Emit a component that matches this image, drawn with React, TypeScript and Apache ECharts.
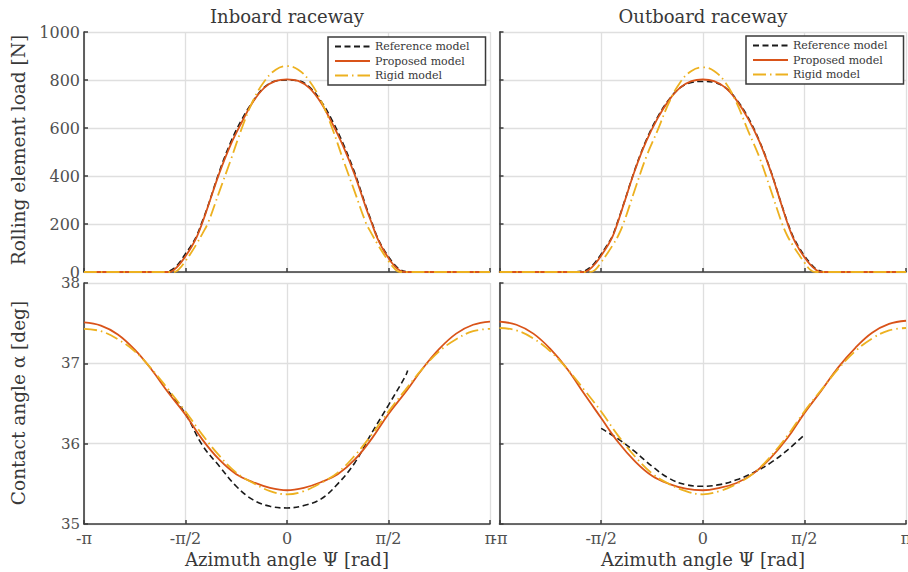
import React, { useEffect, useRef } from 'react';
import * as echarts from 'echarts';

// ---------- data ----------
const seriesNames = ['Reference model', 'Proposed model', 'Rigid model'];
const piTickLabels = ['-π', '-π/2', '0', 'π/2', 'π'];
const panelTitles = ['Inboard raceway', 'Outboard raceway'];

// azimuth samples (degrees) for the load curves
const psiLoadDeg = [-180, -115, -110, -105, -100, -95, -90, -85, -80, -75, -70, -60, -50, -40, -30, -20, -10, 0, 10, 20, 30, 40, 50, 60, 70, 75, 80, 85, 90, 95, 100, 105, 110, 115, 180];

const inboardLoadRef = [0, 0, 0, 3, 16, 42, 76, 110, 152, 212, 276, 418, 540, 636, 712, 770, 796, 800, 797, 770, 713, 632, 532, 414, 274, 210, 146, 100, 64, 32, 11, 2, 0, 0, 0];
const inboardLoadProp = [0, 0, 0, 0, 10, 34, 66, 102, 146, 206, 274, 412, 530, 625, 710, 768, 796, 803, 796, 766, 706, 620, 522, 405, 268, 205, 142, 96, 58, 27, 6, 0, 0, 0, 0];
const inboardLoadRigid = [0, 0, 0, 0, 0, 16, 46, 80, 118, 160, 205, 335, 465, 600, 715, 795, 843, 858, 843, 795, 715, 600, 465, 335, 205, 160, 118, 80, 46, 16, 0, 0, 0, 0, 0];

const outboardLoadRef = [0, 0, 2, 4, 18, 42, 74, 110, 150, 214, 284, 428, 550, 645, 718, 768, 790, 794, 790, 768, 718, 645, 548, 424, 278, 208, 148, 104, 68, 38, 14, 3, 0, 0, 0];
const outboardLoadProp = [0, 0, 0, 0, 12, 36, 68, 104, 146, 210, 282, 425, 545, 640, 715, 768, 795, 802, 795, 768, 715, 640, 545, 422, 276, 204, 142, 98, 62, 32, 10, 0, 0, 0, 0];
const outboardLoadRigid = [0, 0, 0, 0, 0, 10, 40, 74, 110, 150, 205, 345, 480, 590, 705, 790, 838, 853, 838, 790, 705, 590, 480, 345, 205, 150, 110, 74, 40, 10, 0, 0, 0, 0, 0];

// azimuth samples (degrees) for the contact-angle curves
const psiAngleDeg = [-180, -165, -150, -135, -120, -105, -90, -75, -60, -45, -30, -15, 0, 15, 30, 45, 60, 75, 90, 105, 120, 135, 150, 165, 180];

const inboardAngleProp = [37.51, 37.47, 37.36, 37.17, 36.92, 36.63, 36.36, 36.05, 35.80, 35.62, 35.52, 35.45, 35.42, 35.45, 35.52, 35.62, 35.80, 36.06, 36.37, 36.64, 36.93, 37.18, 37.37, 37.48, 37.52];
const inboardAngleRigid = [37.43, 37.40, 37.30, 37.15, 36.93, 36.67, 36.40, 36.11, 35.85, 35.64, 35.51, 35.41, 35.37, 35.41, 35.51, 35.64, 35.85, 36.11, 36.40, 36.67, 36.93, 37.15, 37.30, 37.40, 37.43];
const inboardRefDeg = [-105, -90, -75, -60, -45, -30, -15, 0, 15, 30, 45, 60, 75, 90, 105, 107];
const inboardAngleRef = [36.65, 36.37, 35.98, 35.72, 35.47, 35.30, 35.22, 35.20, 35.23, 35.31, 35.50, 35.76, 36.13, 36.48, 36.84, 36.91];

const outboardAngleProp = [37.52, 37.48, 37.37, 37.18, 36.93, 36.62, 36.32, 36.02, 35.78, 35.60, 35.50, 35.44, 35.42, 35.45, 35.51, 35.63, 35.82, 36.07, 36.38, 36.66, 36.95, 37.19, 37.38, 37.49, 37.53];
const outboardAngleRigid = [37.44, 37.41, 37.31, 37.15, 36.93, 36.67, 36.40, 36.10, 35.84, 35.63, 35.50, 35.41, 35.37, 35.41, 35.50, 35.63, 35.84, 36.10, 36.40, 36.67, 36.93, 37.15, 37.31, 37.41, 37.44];
const outboardRefDeg = [-90, -75, -60, -45, -30, -15, 0, 15, 30, 45, 60, 75, 90];
const outboardAngleRef = [36.19, 36.06, 35.90, 35.72, 35.57, 35.49, 35.47, 35.49, 35.55, 35.64, 35.76, 35.92, 36.11];

// ---------- styling ----------
const FONT = '"DejaVu Serif", serif';
const AXIS_COLOR = '#3d3d3d';
const GRID_COLOR = '#dfdfdf';
const TEXT_COLOR = '#383838';
const TICK_TEXT = '#505050';
const COLORS = ['#1a1a1a', '#D95319', '#EDB120'];
const LINE_TYPES: any[] = [[6, 3.5], 'solid', [13, 4, 1.5, 4]];
const LINE_WIDTHS = [1.6, 1.8, 1.8];

const toPairs = (deg: number[], vals: number[]) => deg.map((d, i) => [(d * Math.PI) / 180, vals[i]]);

export default function App() {
  const ref = useRef<HTMLDivElement>(null);

  useEffect(() => {
    if (!ref.current) return;
    const chart = echarts.init(ref.current, undefined, { renderer: 'svg' });

    const grids = [
      { left: 84, top: 32, width: 406, height: 240 },
      { left: 499.5, top: 32, width: 406.5, height: 240 },
      { left: 84, top: 283, width: 406, height: 241 },
      { left: 499.5, top: 283, width: 406.5, height: 241 },
    ].map((g) => ({ ...g, outerBoundsMode: 'none', containLabel: false }));

    const xAxes = [0, 1, 2, 3].map((i) => ({
      gridIndex: i,
      type: 'value',
      min: -Math.PI,
      max: Math.PI,
      interval: Math.PI / 2,
      axisLine: { show: true, onZero: false, lineStyle: { color: AXIS_COLOR, width: 1.6 } },
      axisTick: { show: true, inside: true, length: 4, lineStyle: { color: AXIS_COLOR, width: 1.5 } },
      axisLabel: {
        show: i >= 2,
        fontFamily: FONT,
        fontSize: 16,
        color: TICK_TEXT,
        margin: 6,
        showMinLabel: true,
        showMaxLabel: true,
        formatter: (v: number) => piTickLabels[Math.round(v / (Math.PI / 2)) + 2] ?? '',
      },
      splitLine: { show: true, lineStyle: { color: GRID_COLOR, width: 1.3 } },
    }));

    const yAxes = [0, 1, 2, 3].map((i) => ({
      gridIndex: i,
      type: 'value',
      min: i < 2 ? 0 : 35,
      max: i < 2 ? 1000 : 38,
      interval: i < 2 ? 200 : 1,
      axisLine: { show: true, onZero: false, lineStyle: { color: AXIS_COLOR, width: 1.6 } },
      axisTick: { show: true, inside: true, length: 4, lineStyle: { color: AXIS_COLOR, width: 1.5 } },
      axisLabel: {
        show: i === 0 || i === 2,
        fontFamily: FONT,
        fontSize: i < 2 ? 16 : 15,
        color: TICK_TEXT,
        margin: 4,
        showMinLabel: true,
        showMaxLabel: true,
        formatter: (v: number) => String(Math.round(v)),
      },
      splitLine: { show: true, lineStyle: { color: GRID_COLOR, width: 1.3 } },
    }));

    const panels: [number[], number[], number[], number[], number[], number[]][] = [
      [psiLoadDeg, inboardLoadRef, psiLoadDeg, inboardLoadProp, psiLoadDeg, inboardLoadRigid],
      [psiLoadDeg, outboardLoadRef, psiLoadDeg, outboardLoadProp, psiLoadDeg, outboardLoadRigid],
      [inboardRefDeg, inboardAngleRef, psiAngleDeg, inboardAngleProp, psiAngleDeg, inboardAngleRigid],
      [outboardRefDeg, outboardAngleRef, psiAngleDeg, outboardAngleProp, psiAngleDeg, outboardAngleRigid],
    ];

    const series: any[] = [];
    panels.forEach((p, gi) => {
      for (let k = 0; k < 3; k++) {
        series.push({
          type: 'line',
          name: seriesNames[k],
          xAxisIndex: gi,
          yAxisIndex: gi,
          data: toPairs(p[2 * k], p[2 * k + 1]),
          symbol: 'none',
          showSymbol: false,
          smooth: 0.4,
          silent: true,
          z: 2 + k,
          itemStyle: { color: COLORS[k] },
          lineStyle: { color: COLORS[k], width: LINE_WIDTHS[k], type: LINE_TYPES[k] },
        });
      }
    });

    const legendBase = {
      orient: 'vertical',
      itemWidth: 35,
      itemHeight: 12,
      itemGap: 3.5,
      padding: [4, 16, 4, 6],
      borderColor: '#3a3a3a',
      borderWidth: 1.5,
      backgroundColor: '#ffffff',
      selectedMode: false,
      itemStyle: { opacity: 0 },
      textStyle: { fontFamily: FONT, fontSize: 11, color: TEXT_COLOR },
      data: seriesNames,
      z: 10,
    };

    const txt = (text: string, x: number, y: number, size: number, rotation = 0) => ({
      type: 'text',
      x,
      y,
      rotation,
      silent: true,
      style: {
        text,
        fontFamily: FONT,
        fontSize: size,
        fill: TEXT_COLOR,
        align: 'center',
        verticalAlign: 'middle',
        textAlign: 'center',
        textVerticalAlign: 'middle',
      },
    });

    chart.setOption({
      animation: false,
      backgroundColor: '#ffffff',
      grid: grids,
      xAxis: xAxes,
      yAxis: yAxes,
      legend: [
        { ...legendBase, left: 328, top: 37 },
        { ...legendBase, left: 746, top: 36 },
      ],
      series,
      graphic: [
        txt(panelTitles[0], 287, 16, 18),
        txt(panelTitles[1], 703, 16, 18),
        txt('Rolling element load [N]', 18, 150, 18.5, Math.PI / 2),
        txt('Contact angle α [deg]', 18, 403, 18.5, Math.PI / 2),
        txt('Azimuth angle Ψ [rad]', 287, 559, 18),
        txt('Azimuth angle Ψ [rad]', 703, 559, 18),
      ],
    });

    return () => chart.dispose();
  }, []);

  return (
    <div
      ref={ref}
      style={{ position: 'absolute', left: 0, top: 0, width: 908, height: 572, background: '#fff' }}
    />
  );
}
